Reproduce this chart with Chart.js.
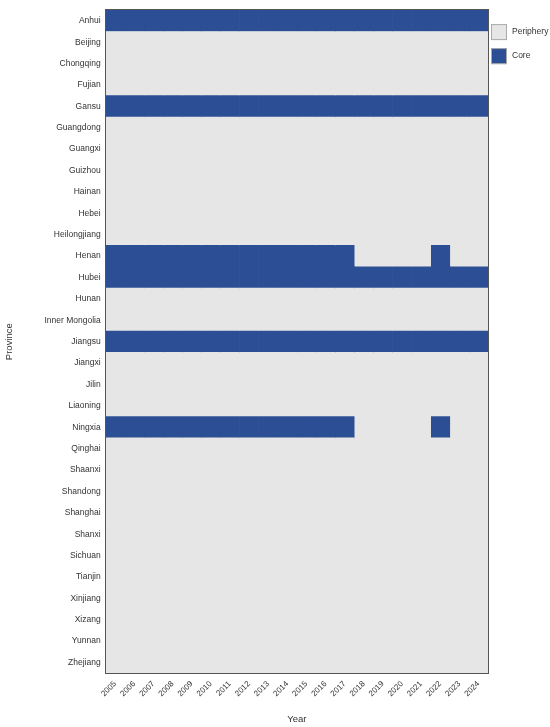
<!DOCTYPE html>
<html>
<head>
<meta charset="utf-8">
<script src="https://cdn.jsdelivr.net/npm/chart.js@4.4.1/dist/chart.umd.min.js"></script>
<style>
  html, body { margin: 0; padding: 0; background: #fff; }
  #wrap { width: 550px; height: 727px; position: relative; }
</style>
</head>
<body>
<div id="wrap"><canvas id="chart"></canvas></div>
<script>
// Data
const provinces = ['Anhui', 'Beijing', 'Chongqing', 'Fujian', 'Gansu', 'Guangdong', 'Guangxi', 'Guizhou',
    'Hainan', 'Hebei', 'Heilongjiang', 'Henan', 'Hubei', 'Hunan', 'Inner Mongolia', 'Jiangsu', 'Jiangxi',
    'Jilin', 'Liaoning', 'Ningxia', 'Qinghai', 'Shaanxi', 'Shandong', 'Shanghai', 'Shanxi', 'Sichuan',
    'Tianjin', 'Xinjiang', 'Xizang', 'Yunnan', 'Zhejiang'];
const years = ['2005', '2006', '2007', '2008', '2009', '2010', '2011', '2012', '2013', '2014',
    '2015', '2016', '2017', '2018', '2019', '2020', '2021', '2022', '2023', '2024'];

// 1 = Core, 0 = Periphery (2005 ... 2024)
const anhuiCore   = [1, 1, 1, 1, 1, 1, 1, 1, 1, 1, 1, 1, 1, 1, 1, 1, 1, 1, 1, 1];
const gansuCore   = [1, 1, 1, 1, 1, 1, 1, 1, 1, 1, 1, 1, 1, 1, 1, 1, 1, 1, 1, 1];
const henanCore   = [1, 1, 1, 1, 1, 1, 1, 1, 1, 1, 1, 1, 1, 0, 0, 0, 0, 1, 0, 0];
const hubeiCore   = [1, 1, 1, 1, 1, 1, 1, 1, 1, 1, 1, 1, 1, 1, 1, 1, 1, 1, 1, 1];
const jiangsuCore = [1, 1, 1, 1, 1, 1, 1, 1, 1, 1, 1, 1, 1, 1, 1, 1, 1, 1, 1, 1];
const ningxiaCore = [1, 1, 1, 1, 1, 1, 1, 1, 1, 1, 1, 1, 1, 0, 0, 0, 0, 1, 0, 0];

const coreRows = {
    'Anhui': anhuiCore,
    'Gansu': gansuCore,
    'Henan': henanCore,
    'Hubei': hubeiCore,
    'Jiangsu': jiangsuCore,
    'Ningxia': ningxiaCore
};

const CORE = '#2c4e95';
const PERIPHERY = '#e6e6e6';
const TEXT = '#333333';
const FONT = "'Liberation Sans', Arial, sans-serif";

function isCore(province, yearIndex) {
    const row = coreRows[province];
    return row ? row[yearIndex] === 1 : false;
}

// een dataset per jaar, elke cel is 1 breed en gestapeld
const datasets = years.map(function(year, i) {
    return {
        label: year,
        data: provinces.map(() => 1),
        backgroundColor: provinces.map(p => isCore(p, i) ? CORE : PERIPHERY),
        borderWidth: 0,
        barPercentage: 1,
        categoryPercentage: 1
    };
});

// kader rond plot + legenda rechtsboven
const framePlugin = {
    id: 'frame',
    afterDraw(chart) {
        const ctx = chart.ctx;
        const a = chart.chartArea;
        ctx.save();
        ctx.strokeStyle = '#555555';
        ctx.lineWidth = 1;
        ctx.strokeRect(Math.round(a.left) - 0.5, Math.round(a.top) - 0.5,
            Math.round(a.right - a.left) + 1, Math.round(a.bottom - a.top) + 1);

        const items = [['Periphery', PERIPHERY], ['Core', CORE]];
        ctx.font = '8.5px ' + FONT;
        ctx.textBaseline = 'middle';
        items.forEach(function(item, k) {
            const x = a.right + 3;
            const y = a.top + 14 + k * 24;
            ctx.fillStyle = item[1];
            ctx.fillRect(x, y, 16, 16);
            ctx.strokeStyle = '#aaaaaa';
            ctx.strokeRect(x + 0.5, y + 0.5, 15, 15);
            ctx.fillStyle = TEXT;
            ctx.fillText(item[0], x + 21, y + 8);
        });
        ctx.restore();
    }
};

const ctx = document.getElementById('chart').getContext('2d');
new Chart(ctx, {
    type: 'bar',
    data: {
        labels: provinces,
        datasets: datasets
    },
    options: {
        indexAxis: 'y',
        responsive: true,
        maintainAspectRatio: false,
        animation: false,
        layout: {
            padding: { top: 5, right: 62, bottom: 2, left: 4 }
        },
        plugins: {
            legend: { display: false },
            tooltip: { enabled: false }
        },
        scales: {
            x: {
                type: 'linear',
                stacked: true,
                min: 0,
                max: years.length,
                grid: { display: false, drawTicks: false },
                border: { display: false },
                afterBuildTicks: function(axis) {
                    axis.ticks = years.map((y, i) => ({ value: i + 0.5 }));
                },
                ticks: {
                    autoSkip: false,
                    minRotation: 45,
                    maxRotation: 45,
                    padding: 6,
                    color: TEXT,
                    font: { family: FONT, size: 8 },
                    callback: function(value) {
                        return years[Math.floor(value)];
                    }
                },
                title: {
                    display: true,
                    text: 'Year',
                    color: TEXT,
                    font: { family: FONT, size: 9.5 },
                    padding: { top: 9, bottom: 0 }
                }
            },
            y: {
                stacked: true,
                grid: { display: false, drawTicks: false },
                border: { display: false },
                ticks: {
                    autoSkip: false,
                    padding: 5,
                    color: TEXT,
                    font: { family: FONT, size: 8.5 }
                },
                title: {
                    display: true,
                    text: 'Province',
                    color: TEXT,
                    font: { family: FONT, size: 9.5 },
                    padding: { top: 0, bottom: 24 }
                }
            }
        }
    },
    plugins: [framePlugin]
});
</script>
</body>
</html>
